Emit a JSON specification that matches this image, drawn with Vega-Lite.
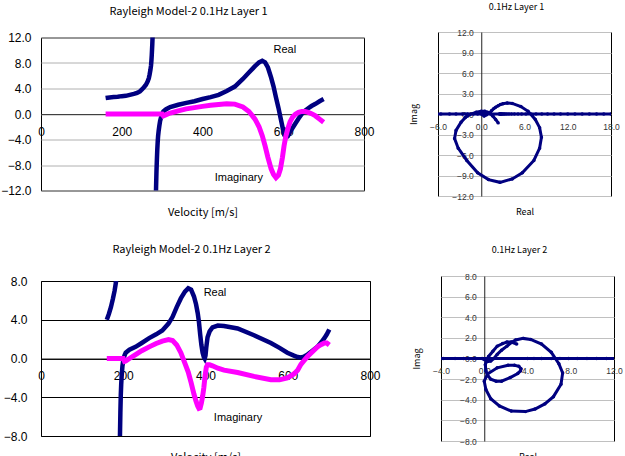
{
  "$schema": "https://vega.github.io/schema/vega-lite/v6.json",
  "background": "white",
  "padding": {"left": 0, "top": 2, "right": 0, "bottom": 0},
  "datasets": {
    "l1": [
      {"v":160,"re":2.5,"im":0,"b":"a"},{"v":170,"re":2.6,"im":0,"b":"a"},{"v":180,"re":2.65,"im":0,"b":"a"},{"v":190,"re":2.7,"im":0,"b":"a"},{"v":200,"re":2.8,"im":0,"b":"a"},{"v":210,"re":2.85,"im":0,"b":"a"},{"v":220,"re":3.0,"im":0,"b":"a"},{"v":230,"re":3.15,"im":0,"b":"a"},{"v":238,"re":3.3,"im":0,"b":"a"},{"v":245,"re":3.55,"im":0,"b":"a"},{"v":250,"re":3.85,"im":0,"b":"a"},{"v":255,"re":4.2,"im":0,"b":"a"},{"v":260,"re":4.6,"im":0,"b":"a"},{"v":264,"re":5.1,"im":0,"b":"a"},{"v":267,"re":5.6,"im":0,"b":"a"},{"v":269,"re":6.2,"im":0,"b":"a"},{"v":271,"re":6.9,"im":0,"b":"a"},{"v":272.5,"re":7.6,"im":0,"b":"a"},{"v":273.5,"re":8.4,"im":0,"b":"a"},{"v":274.3,"re":9.2,"im":0,"b":"a"},{"v":275,"re":10.1,"im":0,"b":"a"},{"v":275.7,"re":11,"im":0,"b":"a"},{"v":276.3,"re":12,"im":0,"b":"a"},{"v":276.9,"re":13,"im":0,"b":"a"},{"v":277.5,"re":14,"im":0,"b":"a"},{"v":278.1,"re":15,"im":0,"b":"a"},{"v":278.7,"re":16,"im":0,"b":"a"},{"v":279.3,"re":17,"im":0,"b":"a"},{"v":279.9,"re":18,"im":0,"b":"a"},{"v":281,"re":20,"im":0,"b":"a"},
      {"v":283,"re":-20,"im":0,"b":"b"},{"v":284,"re":-15,"im":0,"b":"b"},{"v":285,"re":-11.5,"im":0,"b":"b"},{"v":286,"re":-9,"im":0,"b":"b"},{"v":287,"re":-7.2,"im":0,"b":"b"},{"v":288,"re":-5.6,"im":0,"b":"b"},{"v":289,"re":-4.4,"im":0,"b":"b"},{"v":290,"re":-3.5,"im":0,"b":"b"},{"v":291.5,"re":-2.6,"im":0,"b":"b"},{"v":293,"re":-1.9,"im":0,"b":"b"},{"v":295,"re":-1.1,"im":0,"b":"b"},{"v":297.5,"re":-0.5,"im":0,"b":"b"},{"v":300,"re":0.0,"im":0,"b":"b"},{"v":303,"re":0.4,"im":-0.3,"b":"b"},{"v":310,"re":0.75,"im":-0.1,"b":"b"},{"v":320,"re":1.1,"im":0.15,"b":"b"},{"v":340,"re":1.45,"im":0.5,"b":"b"},{"v":360,"re":1.75,"im":0.8,"b":"b"},{"v":380,"re":2.0,"im":1.0,"b":"b"},{"v":400,"re":2.35,"im":1.2,"b":"b"},{"v":420,"re":2.65,"im":1.38,"b":"b"},{"v":440,"re":3.0,"im":1.5,"b":"b"},{"v":460,"re":3.6,"im":1.6,"b":"b"},{"v":480,"re":4.3,"im":1.55,"b":"b"},{"v":500,"re":5.5,"im":1.1,"b":"b"},{"v":515,"re":6.5,"im":0.4,"b":"b"},{"v":530,"re":7.5,"im":-0.8,"b":"b"},{"v":540,"re":8.1,"im":-2.0,"b":"b"},{"v":548,"re":8.35,"im":-3.4,"b":"b"},{"v":555,"re":8.1,"im":-5.0,"b":"b"},{"v":562,"re":7.3,"im":-6.8,"b":"b"},{"v":570,"re":5.7,"im":-8.6,"b":"b"},{"v":576,"re":4.3,"im":-9.5,"b":"b"},{"v":582,"re":2.6,"im":-10.0,"b":"b"},{"v":588,"re":1.0,"im":-9.6,"b":"b"},{"v":593,"re":-0.5,"im":-8.6,"b":"b"},{"v":598,"re":-2.0,"im":-6.8,"b":"b"},{"v":602,"re":-3.2,"im":-5.0,"b":"b"},{"v":606,"re":-3.7,"im":-3.6,"b":"b"},{"v":611,"re":-3.5,"im":-2.4,"b":"b"},{"v":617,"re":-2.8,"im":-1.2,"b":"b"},{"v":623,"re":-2.2,"im":-0.5,"b":"b"},{"v":630,"re":-1.5,"im":-0.05,"b":"b"},{"v":638,"re":-0.7,"im":0.25,"b":"b"},{"v":646,"re":0.0,"im":0.4,"b":"b"},{"v":654,"re":0.5,"im":0.4,"b":"b"},{"v":662,"re":0.9,"im":0.25,"b":"b"},{"v":670,"re":1.25,"im":0.05,"b":"b"},{"v":680,"re":1.6,"im":-0.3,"b":"b"},{"v":690,"re":2.0,"im":-0.8,"b":"b"},{"v":700,"re":2.35,"im":-1.3,"b":"b"}
    ],
    "l2": [
      {"v":160,"re":4.0,"im":0,"b":"a"},{"v":165,"re":4.6,"im":0,"b":"a"},{"v":170,"re":5.3,"im":0,"b":"a"},{"v":175,"re":6.2,"im":0,"b":"a"},{"v":179,"re":7.0,"im":0,"b":"a"},{"v":182,"re":7.8,"im":0,"b":"a"},{"v":184,"re":8.6,"im":0,"b":"a"},{"v":185.3,"re":9.5,"im":0,"b":"a"},{"v":186.3,"re":10.4,"im":0,"b":"a"},{"v":187.2,"re":11.3,"im":0,"b":"a"},{"v":188,"re":12.2,"im":0,"b":"a"},{"v":189,"re":14,"im":0,"b":"a"},
      {"v":190,"re":-14,"im":0,"b":"b"},{"v":191,"re":-10.5,"im":0,"b":"b"},{"v":192,"re":-8,"im":0,"b":"b"},{"v":193,"re":-5.6,"im":0,"b":"b"},{"v":194,"re":-3.8,"im":0,"b":"b"},{"v":195,"re":-2.7,"im":0,"b":"b"},{"v":196,"re":-1.9,"im":0,"b":"b"},{"v":198,"re":-0.8,"im":0,"b":"b"},{"v":200,"re":-0.2,"im":0,"b":"b"},{"v":203,"re":0.3,"im":-0.3,"b":"b"},{"v":206,"re":0.6,"im":-0.25,"b":"b"},{"v":215,"re":0.9,"im":0.0,"b":"b"},{"v":230,"re":1.2,"im":0.4,"b":"b"},{"v":245,"re":1.6,"im":0.8,"b":"b"},{"v":263,"re":2.1,"im":1.2,"b":"b"},{"v":280,"re":2.5,"im":1.55,"b":"b"},{"v":295,"re":2.9,"im":1.8,"b":"b"},{"v":310,"re":3.6,"im":1.95,"b":"b"},{"v":320,"re":4.3,"im":1.85,"b":"b"},{"v":330,"re":5.3,"im":1.4,"b":"b"},{"v":340,"re":6.2,"im":0.6,"b":"b"},{"v":350,"re":6.9,"im":-0.5,"b":"b"},{"v":358,"re":7.25,"im":-1.4,"b":"b"},{"v":365,"re":7.1,"im":-2.5,"b":"b"},{"v":372,"re":6.4,"im":-3.7,"b":"b"},{"v":377,"re":5.6,"im":-4.4,"b":"b"},{"v":381,"re":4.7,"im":-4.9,"b":"b"},{"v":384,"re":3.8,"im":-5.15,"b":"b"},{"v":387,"re":2.5,"im":-5.1,"b":"b"},{"v":390,"re":1.4,"im":-4.6,"b":"b"},{"v":393,"re":0.6,"im":-3.9,"b":"b"},{"v":396,"re":0.15,"im":-3.0,"b":"b"},{"v":398,"re":0.0,"im":-2.2,"b":"b"},{"v":400,"re":0.3,"im":-1.5,"b":"b"},{"v":402,"re":1.2,"im":-0.9,"b":"b"},{"v":405,"re":2.2,"im":-0.65,"b":"b"},{"v":410,"re":2.8,"im":-0.65,"b":"b"},{"v":417,"re":3.2,"im":-0.75,"b":"b"},{"v":430,"re":3.4,"im":-1.0,"b":"b"},{"v":445,"re":3.35,"im":-1.2,"b":"b"},{"v":478,"re":3.1,"im":-1.45,"b":"b"},{"v":518,"re":2.4,"im":-1.85,"b":"b"},{"v":559,"re":1.6,"im":-2.2,"b":"b"},{"v":580,"re":1.1,"im":-2.2,"b":"b"},{"v":599,"re":0.6,"im":-2.0,"b":"b"},{"v":615,"re":0.3,"im":-1.6,"b":"b"},{"v":624,"re":0.15,"im":-1.2,"b":"b"},{"v":632,"re":0.1,"im":-0.6,"b":"b"},{"v":640,"re":0.2,"im":-0.2,"b":"b"},{"v":648,"re":0.4,"im":0.2,"b":"b"},{"v":660,"re":0.8,"im":0.7,"b":"b"},{"v":672,"re":1.2,"im":1.2,"b":"b"},{"v":682,"re":1.7,"im":1.45,"b":"b"},{"v":689,"re":2.1,"im":1.6,"b":"b"},{"v":695,"re":2.5,"im":1.6,"b":"b"},{"v":701,"re":3.0,"im":1.4,"b":"b"}
    ]
  },
  "spacing": 25,
  "vconcat": [
    {
      "bounds": "flush",
      "center": true,
      "spacing": 74,
      "hconcat": [
        {
          "width": 323, "height": 153,
          "title": {"text": "Rayleigh Model-2 0.1Hz Layer 1", "fontSize": 11, "dx": -14, "offset": 15},
          "data": {"name": "l1"},
          "encoding": {
            "x": {"field": "v", "type": "quantitative", "scale": {"domain": [0, 800], "nice": false},
                  "axis": {"values": [0, 200, 400, 600, 800], "format": "d", "labelFlush": false, "labelOverlap": false, "offset": -76.5, "ticks": false, "grid": false, "labelPadding": 12, "labelFontSize": 12, "domainColor": "#404040", "title": "Velocity [m/s]", "titleFontSize": 11, "titleY": 92}}
          },
          "layer": [
            {"mark": {"type": "line", "color": "#000080", "strokeWidth": 4.5, "clip": true},
             "encoding": {
               "y": {"field": "re", "type": "quantitative", "scale": {"domain": [-12, 12], "nice": false},
                     "axis": {"values": [-12, -8, -4, 0, 4, 8, 12], "format": ".1f", "labelOverlap": false, "grid": true, "gridColor": "#b0b0b0", "gridOpacity": 1, "domain": false, "ticks": false, "labelPadding": 10, "labelFontSize": 12, "title": null}},
               "detail": {"field": "b"}}},
            {"mark": {"type": "line", "color": "#ff00ff", "strokeWidth": 5, "clip": true},
             "encoding": {
               "y": {"field": "im", "type": "quantitative",
                     "axis": {"values": [-12, -8, -4, 0, 4, 8, 12], "format": ".1f", "labelOverlap": false, "grid": true, "gridColor": "#b0b0b0", "gridOpacity": 1, "domain": false, "ticks": false, "labelPadding": 10, "labelFontSize": 12, "title": null}}}},
            {"data": {"values": [{"t": "Real", "x": 604, "y": 10.1}, {"t": "Imaginary", "x": 490, "y": -10.0}]},
             "mark": {"type": "text", "font": "Liberation Sans", "fontSize": 11, "color": "black"},
             "encoding": {
               "x": {"field": "x", "type": "quantitative"},
               "y": {"field": "y", "type": "quantitative",
                     "axis": {"values": [-12, -8, -4, 0, 4, 8, 12], "format": ".1f", "labelOverlap": false, "grid": true, "gridColor": "#b0b0b0", "gridOpacity": 1, "domain": false, "ticks": false, "labelPadding": 10, "labelFontSize": 12, "title": null}},
               "text": {"field": "t"}}}
          ]
        },
        {
          "width": 173, "height": 164,
          "title": {"text": "0.1Hz Layer 1", "fontSize": 9, "dx": -8, "offset": 16},
          "data": {"name": "l1"},
          "encoding": {
            "x": {"field": "re", "type": "quantitative", "scale": {"domain": [-6, 18], "nice": false},
                  "axis": {"values": [-6, 0, 6, 12, 18], "format": ".1f", "labelFlush": false, "labelOverlap": false, "offset": -82, "ticks": false, "grid": false, "labelPadding": 8, "labelFontSize": 8.5, "labelColor": "#333333", "domainColor": "#222222", "title": "Real", "titleFontSize": 9, "titleY": 93}},
            "y": {"field": "im", "type": "quantitative", "scale": {"domain": [-12, 12], "nice": false},
                  "axis": {"values": [-12, -9, -6, -3, 0, 3, 6, 9, 12], "format": ".1f", "labelOverlap": false, "offset": -43.25, "ticks": false, "grid": true, "gridColor": "#c0c0c0", "labelPadding": 8, "labelFontSize": 8.5, "labelColor": "#333333", "domainColor": "#222222", "title": "Imag", "titleFontSize": 9, "titleX": -63, "titleY": 82}},
            "order": {"field": "v", "type": "quantitative"}
          },
          "layer": [
            {"mark": {"type": "line", "color": "#000080", "strokeWidth": 3, "clip": true}},
            {"mark": {"type": "point", "filled": true, "color": "#000080", "size": 12, "opacity": 1, "clip": true}}
          ]
        }
      ]
    },
    {
      "bounds": "flush",
      "center": true,
      "spacing": 71,
      "hconcat": [
        {
          "width": 329, "height": 155,
          "title": {"text": "Rayleigh Model-2 0.1Hz Layer 2", "fontSize": 11, "dx": -14, "offset": 20},
          "data": {"name": "l2"},
          "encoding": {
            "x": {"field": "v", "type": "quantitative", "scale": {"domain": [0, 800], "nice": false},
                  "axis": {"values": [0, 200, 400, 600, 800], "format": "d", "labelFlush": false, "labelOverlap": false, "offset": -77.5, "ticks": false, "grid": false, "labelPadding": 12, "labelFontSize": 12, "domainColor": "#202020", "title": "Velocity [m/s]", "titleFontSize": 11, "titleY": 93}}
          },
          "layer": [
            {"mark": {"type": "line", "color": "#000080", "strokeWidth": 4.5, "clip": true},
             "encoding": {
               "y": {"field": "re", "type": "quantitative", "scale": {"domain": [-8, 8], "nice": false},
                     "axis": {"values": [-8, -4, 0, 4, 8], "format": ".1f", "labelOverlap": false, "grid": true, "gridColor": "#000000", "gridOpacity": 1, "domain": false, "ticks": false, "labelPadding": 14, "labelFontSize": 12, "title": null}},
               "detail": {"field": "b"}}},
            {"mark": {"type": "line", "color": "#ff00ff", "strokeWidth": 5, "clip": true},
             "encoding": {
               "y": {"field": "im", "type": "quantitative",
                     "axis": {"values": [-8, -4, 0, 4, 8], "format": ".1f", "labelOverlap": false, "grid": true, "gridColor": "#000000", "gridOpacity": 1, "domain": false, "ticks": false, "labelPadding": 14, "labelFontSize": 12, "title": null}}}},
            {"data": {"values": [{"t": "Real", "x": 423, "y": 6.8}, {"t": "Imaginary", "x": 479, "y": -6.1}]},
             "mark": {"type": "text", "font": "Liberation Sans", "fontSize": 11, "color": "black"},
             "encoding": {
               "x": {"field": "x", "type": "quantitative"},
               "y": {"field": "y", "type": "quantitative",
                     "axis": {"values": [-8, -4, 0, 4, 8], "format": ".1f", "labelOverlap": false, "grid": true, "gridColor": "#000000", "gridOpacity": 1, "domain": false, "ticks": false, "labelPadding": 14, "labelFontSize": 12, "title": null}},
               "text": {"field": "t"}}}
          ]
        },
        {
          "width": 173, "height": 165,
          "title": {"text": "0.1Hz Layer 2", "fontSize": 9, "dx": -8, "offset": 17},
          "data": {"name": "l2"},
          "encoding": {
            "x": {"field": "re", "type": "quantitative", "scale": {"domain": [-4, 12], "nice": false},
                  "axis": {"values": [-4, 0, 4, 8, 12], "format": ".1f", "labelFlush": false, "labelOverlap": false, "offset": -82.5, "ticks": false, "grid": false, "labelPadding": 8, "labelFontSize": 8.5, "labelColor": "#333333", "domainColor": "#222222", "title": "Real", "titleFontSize": 9, "titleY": 93.5}},
            "y": {"field": "im", "type": "quantitative", "scale": {"domain": [-8, 8], "nice": false},
                  "axis": {"values": [-8, -6, -4, -2, 0, 2, 4, 6, 8], "format": ".1f", "labelOverlap": false, "offset": -43.25, "ticks": false, "grid": true, "gridColor": "#c0c0c0", "labelPadding": 8, "labelFontSize": 8.5, "labelColor": "#333333", "domainColor": "#222222", "title": "Imag", "titleFontSize": 9, "titleX": -63, "titleY": 82.5}},
            "order": {"field": "v", "type": "quantitative"}
          },
          "layer": [
            {"mark": {"type": "line", "color": "#000080", "strokeWidth": 3, "clip": true}},
            {"mark": {"type": "point", "filled": true, "color": "#000080", "size": 12, "opacity": 1, "clip": true}}
          ]
        }
      ]
    }
  ],
  "config": {
    "view": {"stroke": "black", "strokeWidth": 1},
    "axis": {"labelFont": "Liberation Sans", "labelColor": "black", "titleFont": "Noto Sans CJK JP", "titleColor": "black", "titleFontWeight": "normal"},
    "title": {"font": "Noto Sans CJK JP", "fontWeight": "normal", "color": "black", "anchor": "middle"}
  }
}
